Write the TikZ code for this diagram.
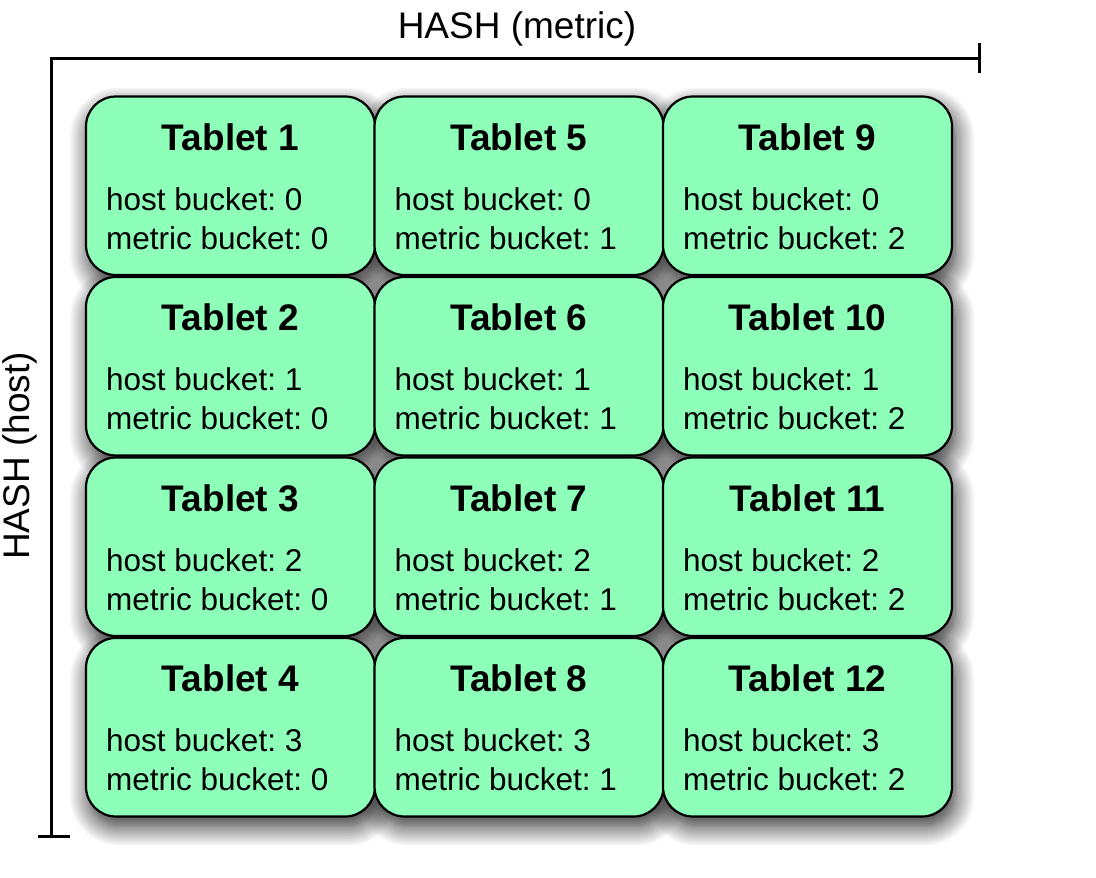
\documentclass[tikz,border=0pt]{standalone}
\usepackage{fontspec}
\setmainfont{Liberation Sans}
\usetikzlibrary{shadows.blur,calc}
\definecolor{tabfill}{RGB}{142,255,185}
\frenchspacing
\begin{document}
\begin{tikzpicture}[x=1pt,y=-1pt,
  tabshape/.style={rounded corners=30pt, minimum width=289pt, minimum height=178.5pt,
    inner sep=0pt, outer sep=0pt},
  tabshadow/.style={tabshape,
    blur shadow={shadow xshift=3pt, shadow yshift=-10pt, shadow blur radius=20pt, shadow blur steps=16, shadow opacity=85}},
  tablet/.style={tabshape, draw=black, line width=2.2pt, fill=tabfill},
  tabtitle/.style={font=\bfseries\fontsize{37}{44}\selectfont, anchor=base},
  tabbody/.style={font=\fontsize{31.5}{38}\selectfont, anchor=base west, inner sep=0pt},
  axislabel/.style={font=\fontsize{37}{44}\selectfont, inner sep=0pt, anchor=base},
  axisline/.style={line width=3pt}]
\useasboundingbox (0,0) rectangle (1096,878);
\coordinate (origin) at (51,58);
\coordinate (xend) at (979,58);
\coordinate (yend) at (51,836);
\draw[axisline] (yend) -- (origin) -- (xend);
\draw[axisline] ($(xend)+(0,-15)$) -- ($(xend)+(0,15)$);
\draw[axisline] ($(yend)+(-13,0)$) -- ($(yend)+(19,0)$);
\node[axislabel] (xlabel) at (517,38) {HASH (metric)};
\node[axislabel, rotate=90] (ylabel) at (29,456) {HASH (host)};
% shadows first
\foreach \c in {0,1,2}{
  \foreach \r in {0,1,2,3}{
    \pgfmathtruncatemacro{\n}{\c*4+\r+1}
    \node[tabshadow] (s\n) at ({230.5+288.5*\c},{185.75+180.5*\r}) {};
  }
}
% tablets
\foreach \c in {0,1,2}{
  \foreach \r in {0,1,2,3}{
    \pgfmathtruncatemacro{\n}{\c*4+\r+1}
    \node[tablet] (t\n) at ({230.5+288.5*\c},{185.75+180.5*\r}) {};
    \node[tabtitle] (t\n-title) at ($(t\n.north)+(0,53.5)$) {Tablet \n};
    \node[tabbody] (t\n-host) at ($(t\n.north west)+(20,113.5)$) {host bucket: \r};
    \node[tabbody] (t\n-metric) at ($(t\n.north west)+(20,152.5)$) {metric bucket: \c};
  }
}
\end{tikzpicture}
\end{document}
